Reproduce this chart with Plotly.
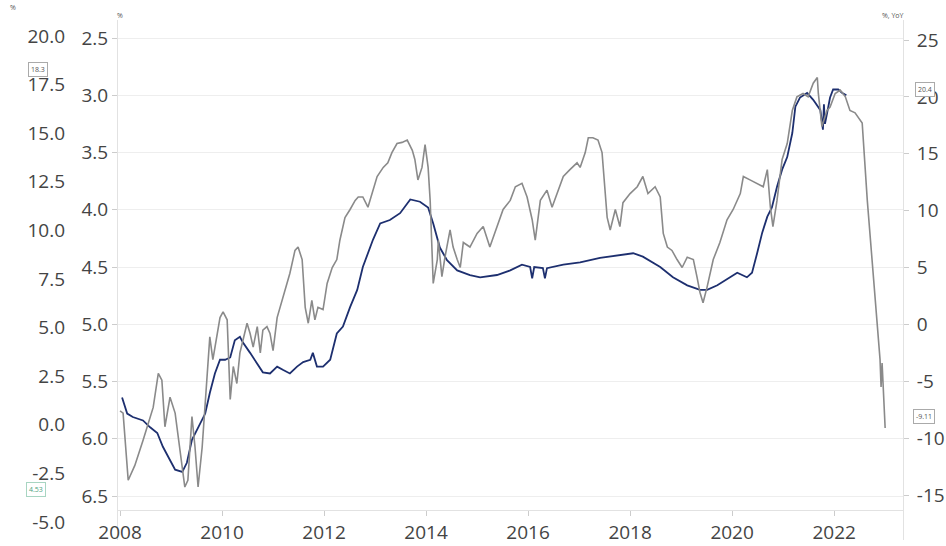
import plotly.graph_objects as go

# ---- data ----
gray_year = [2008.00, 2008.06, 2008.16, 2008.29, 2008.45, 2008.53, 2008.65, 2008.75, 2008.82, 2008.88,
             2008.98, 2009.08, 2009.18, 2009.27, 2009.33, 2009.41, 2009.47, 2009.53, 2009.61, 2009.71,
             2009.76, 2009.82, 2009.96, 2010.02, 2010.10, 2010.16, 2010.22, 2010.29, 2010.35, 2010.41,
             2010.49, 2010.55, 2010.61, 2010.69, 2010.75, 2010.80, 2010.88, 2010.94, 2011.00, 2011.08,
             2011.20, 2011.33, 2011.43, 2011.49, 2011.57, 2011.63, 2011.69, 2011.76, 2011.82, 2011.88,
             2011.98, 2012.06, 2012.16, 2012.25, 2012.31, 2012.41, 2012.51, 2012.61, 2012.67, 2012.76,
             2012.86, 2012.94, 2013.04, 2013.16, 2013.25, 2013.33, 2013.43, 2013.53, 2013.63, 2013.73,
             2013.78, 2013.84, 2013.92, 2013.98, 2014.04, 2014.08, 2014.14, 2014.22, 2014.24, 2014.31,
             2014.37, 2014.47, 2014.53, 2014.61, 2014.67, 2014.73, 2014.86, 2015.00, 2015.12, 2015.25,
             2015.39, 2015.51, 2015.65, 2015.75, 2015.88, 2015.98, 2016.08, 2016.14, 2016.24, 2016.37,
             2016.47, 2016.57, 2016.69, 2016.82, 2016.96, 2017.02, 2017.12, 2017.18, 2017.27, 2017.37,
             2017.45, 2017.55, 2017.61, 2017.71, 2017.80, 2017.86, 2018.00, 2018.14, 2018.25, 2018.35,
             2018.49, 2018.59, 2018.65, 2018.73, 2018.82, 2018.92, 2019.02, 2019.12, 2019.24, 2019.31,
             2019.37, 2019.43, 2019.51, 2019.63, 2019.76, 2019.90, 2020.02, 2020.16, 2020.22, 2020.35,
             2020.49, 2020.61, 2020.69, 2020.75, 2020.80, 2020.88, 2020.98, 2021.08, 2021.18, 2021.27,
             2021.39, 2021.49, 2021.59, 2021.67, 2021.69, 2021.76, 2021.86, 2021.92, 2022.02, 2022.12,
             2022.22, 2022.31, 2022.41, 2022.47, 2022.55, 2022.65, 2022.80, 2022.90, 2022.92, 2022.94,
             2023.00]
gray_yoy = [-7.6, -7.8, -13.7, -12.4, -10.2, -9.0, -7.3, -4.3, -4.9, -9.0,
            -6.4, -7.8, -11.3, -14.3, -13.7, -8.1, -10.8, -14.3, -10.8, -3.7,
            -1.1, -3.1, 0.6, 1.1, 0.4, -6.6, -3.7, -5.2, -2.5, -1.4,
            0.1, -0.8, -2.0, -0.2, -2.5, -0.5, -0.2, -0.8, -2.3, 0.6,
            2.4, 4.5, 6.5, 6.8, 5.7, 1.5, 0.1, 2.1, 0.4, 1.5,
            1.3, 3.6, 5.0, 5.7, 7.4, 9.4, 10.1, 10.9, 11.2, 11.2,
            10.3, 11.5, 13.0, 13.8, 14.2, 15.1, 15.9, 16.0, 16.2, 15.3,
            14.5, 12.7, 13.8, 15.8, 13.8, 10.9, 3.6, 5.7, 7.4, 4.2,
            5.9, 8.3, 6.8, 5.7, 5.0, 7.2, 6.8, 8.0, 8.6, 6.8,
            8.6, 10.1, 10.9, 12.1, 12.4, 11.2, 9.2, 7.4, 10.9, 11.8,
            10.3, 11.5, 13.0, 13.6, 14.2, 13.8, 15.1, 16.4, 16.4, 16.2,
            15.1, 9.4, 8.3, 10.1, 8.6, 10.7, 11.5, 12.1, 13.0, 11.5,
            12.1, 11.2, 8.0, 6.8, 6.5, 5.7, 5.0, 5.9, 5.7, 4.2,
            2.8, 1.9, 3.3, 5.7, 7.2, 9.2, 10.1, 11.5, 13.0, 12.7,
            12.4, 12.1, 13.6, 10.3, 8.6, 10.9, 14.5, 15.9, 18.8, 20.0,
            20.3, 20.0, 21.2, 21.7, 20.3, 17.4, 18.8, 19.1, 20.3, 20.6,
            20.0, 18.8, 18.6, 18.2, 17.7, 10.9, 2.1, -3.1, -5.5, -3.4,
            -9.11]

blue_year = [2008.04, 2008.14, 2008.25, 2008.45, 2008.59, 2008.73, 2008.84, 2008.98, 2009.08, 2009.22,
             2009.31, 2009.41, 2009.53, 2009.67, 2009.76, 2009.86, 2009.96, 2010.06, 2010.16, 2010.25,
             2010.35, 2010.41, 2010.55, 2010.69, 2010.80, 2010.94, 2011.08, 2011.20, 2011.33, 2011.47,
             2011.59, 2011.73, 2011.78, 2011.86, 2011.98, 2012.12, 2012.25, 2012.37, 2012.51, 2012.65,
             2012.76, 2012.96, 2013.10, 2013.29, 2013.49, 2013.69, 2013.88, 2014.04, 2014.14, 2014.27,
             2014.41, 2014.61, 2014.86, 2015.06, 2015.39, 2015.65, 2015.88, 2016.04, 2016.08, 2016.12,
             2016.29, 2016.33, 2016.37, 2016.69, 2017.02, 2017.41, 2017.75, 2018.06, 2018.25, 2018.59,
             2018.84, 2019.12, 2019.37, 2019.51, 2019.71, 2019.90, 2020.10, 2020.29, 2020.39, 2020.49,
             2020.59, 2020.69, 2020.78, 2020.88, 2020.98, 2021.08, 2021.18, 2021.24, 2021.33, 2021.47,
             2021.59, 2021.73, 2021.78, 2021.80, 2021.82, 2021.86, 2021.92, 2021.98, 2022.08, 2022.16,
             2022.24]
blue_rate = [5.64, 5.78, 5.81, 5.84, 5.90, 5.95, 6.07, 6.19, 6.27, 6.29,
             6.21, 6.01, 5.90, 5.78, 5.60, 5.43, 5.31, 5.31, 5.29, 5.14,
             5.11, 5.16, 5.25, 5.34, 5.42, 5.43, 5.37, 5.40, 5.43, 5.37,
             5.33, 5.31, 5.25, 5.37, 5.37, 5.31, 5.08, 5.02, 4.85, 4.70,
             4.50, 4.26, 4.12, 4.09, 4.03, 3.91, 3.93, 3.98, 4.12, 4.33,
             4.44, 4.53, 4.57, 4.59, 4.57, 4.53, 4.48, 4.50, 4.60, 4.50,
             4.51, 4.60, 4.51, 4.48, 4.46, 4.42, 4.40, 4.38, 4.41, 4.50,
             4.59, 4.66, 4.70, 4.70, 4.66, 4.61, 4.55, 4.59, 4.55, 4.38,
             4.20, 4.06, 3.98, 3.80, 3.65, 3.54, 3.33, 3.10, 3.02, 2.98,
             3.04, 3.13, 3.30, 3.08, 3.25, 3.16, 3.02, 2.95, 2.95, 2.98,
             3.00]

x_ticks = [2008, 2010, 2012, 2014, 2016, 2018, 2020, 2022]
inner_ticks = [2.5, 3.0, 3.5, 4.0, 4.5, 5.0, 5.5, 6.0, 6.5]
right_ticks = [25, 20, 15, 10, 5, 0, -5, -10, -15]
outer_ticks = [20.0, 17.5, 15.0, 12.5, 10.0, 7.5, 5.0, 2.5, 0.0, -2.5, -5.0]

W, H = 946, 546
FONT = "Open Sans"
TICKC = "#444444"
GRID = "#eeeeee"
LINEC = "#e2e2e2"


def px_x(p):
    return p / W


def px_y(p):
    return 1 - p / H


def fmt1(v):
    return f"{v:.1f}"


fig = go.Figure()
fig.add_trace(go.Scatter(x=gray_year, y=gray_yoy, yaxis="y2", mode="lines",
                         line=dict(color="#8a8a8a", width=1.6), showlegend=False, hoverinfo="skip"))
fig.add_trace(go.Scatter(x=blue_year, y=blue_rate, yaxis="y", mode="lines",
                         line=dict(color="#1d2f6f", width=1.8), showlegend=False, hoverinfo="skip"))

dom = [px_y(540), px_y(20)]
tickfont = dict(family=FONT, size=19, color=TICKC)

fig.update_layout(
    width=W, height=H, autosize=False,
    margin=dict(l=0, r=0, t=0, b=0, autoexpand=False),
    paper_bgcolor="white", plot_bgcolor="white",
    font=dict(family=FONT, color=TICKC),
    xaxis=dict(domain=[px_x(118), px_x(903)], range=[2007.96, 2023.35],
               anchor="free", position=px_y(510), automargin=False,
               tickvals=x_ticks, ticktext=[str(t) for t in x_ticks],
               showgrid=False, zeroline=False, showline=True, linecolor=LINEC, linewidth=1,
               ticks="outside", ticklen=5, tickcolor="#cccccc", tickfont=tickfont),
    yaxis=dict(domain=dom, range=[6.8843, 2.3428], tickvals=inner_ticks,
               ticktext=[fmt1(v) for v in inner_ticks], automargin=False,
               showgrid=True, gridcolor=GRID, gridwidth=1, zeroline=False,
               showline=True, linecolor=LINEC, ticks="outside", ticklen=5, tickcolor="#cccccc",
               tickfont=tickfont, anchor="x", side="left"),
    yaxis2=dict(range=[-18.956, 26.758], tickvals=right_ticks,
                ticktext=[str(v) for v in right_ticks], automargin=False,
                overlaying="y", side="right", anchor="x", showgrid=False, zeroline=False,
                showline=True, linecolor=LINEC, ticks="outside", ticklen=5, tickcolor="#cccccc",
                ticklabelstandoff=4, tickfont=tickfont),
    yaxis3=dict(range=[-5.926, 20.823], tickvals=outer_ticks,
                ticktext=[fmt1(v) for v in outer_ticks], automargin=False,
                overlaying="y", anchor="free", position=px_x(65), side="left",
                showgrid=False, zeroline=False, showline=False, ticks="", tickfont=tickfont),
    yaxis4=dict(range=[-5.926, 20.823], tickvals=outer_ticks, automargin=False,
                overlaying="y", anchor="free", position=px_x(14), side="left",
                showgrid=False, zeroline=False, showline=True, linecolor=LINEC,
                ticks="outside", ticklen=14, tickcolor="#cccccc", showticklabels=False),
)

ann_font = dict(family=FONT, size=7, color="#555555")
for tx, xx, yy in [("%", 13, 8), ("%", 120, 15), ("%, YoY", 893, 15)]:
    fig.add_annotation(x=px_x(xx), y=px_y(yy), xref="paper", yref="paper", text=tx,
                       showarrow=False, font=ann_font, xanchor="center", yanchor="middle")

tag_font = dict(family=FONT, size=7, color="#555555")
fig.add_annotation(x=px_x(38), y=18.3, xref="paper", yref="y3", text="18.3", showarrow=False,
                   xanchor="center", yanchor="middle",
                   font=tag_font, bgcolor="white", bordercolor="#aaaaaa", borderwidth=1, borderpad=2)
fig.add_annotation(x=px_x(36), y=px_y(489), xref="paper", yref="paper", text="4.53", showarrow=False,
                   xanchor="center", yanchor="middle",
                   font=dict(family=FONT, size=7, color="#4f9f80"), bgcolor="white",
                   bordercolor="#a8d5c2", borderwidth=1, borderpad=2)
fig.add_annotation(x=px_x(925), y=px_y(90), xref="paper", yref="paper", text="20.4", showarrow=False,
                   xanchor="center", yanchor="middle",
                   font=tag_font, bgcolor="white", bordercolor="#aaaaaa", borderwidth=1, borderpad=2)
fig.add_annotation(x=px_x(924), y=px_y(416), xref="paper", yref="paper", text="-9.11", showarrow=False,
                   xanchor="center", yanchor="middle",
                   font=tag_font, bgcolor="white", bordercolor="#aaaaaa", borderwidth=1, borderpad=2)

fig.write_html("out.html", config={"displayModeBar": False},
               post_script="document.body.style.margin='0px';document.body.style.padding='0px';"
                           "document.body.style.overflow='hidden';")
